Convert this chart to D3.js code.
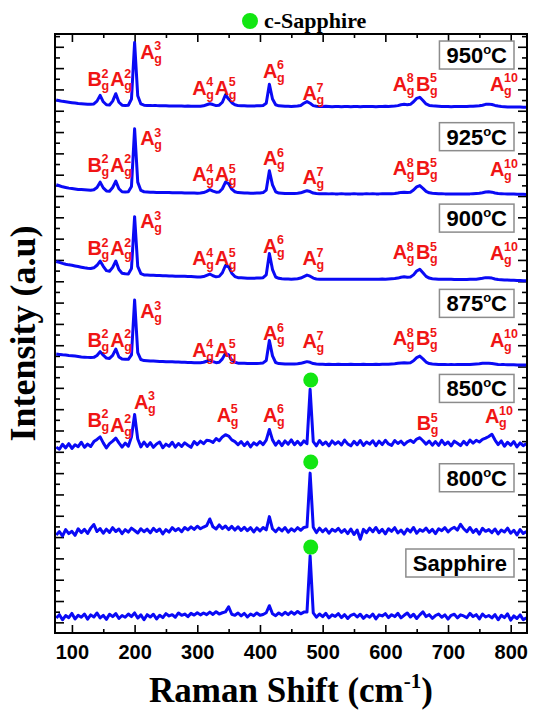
<!DOCTYPE html>
<html>
<head>
<meta charset="utf-8">
<script src="https://cdn.jsdelivr.net/npm/d3@7"></script>
<style>
  body { margin: 0; background: #fff; }
  .tick text { font-family: "Liberation Sans", Arial, sans-serif; font-weight: bold; font-size: 20px; fill: #000; }
  .tick line { stroke: #000; stroke-width: 1.6; }
  .mode { font-family: "Liberation Sans", Arial, sans-serif; font-weight: bold; fill: #f01414; }
  .tag { font-family: "Liberation Sans", Arial, sans-serif; font-weight: bold; font-size: 22px; fill: #000; }
  .title { font-family: "Liberation Serif", "Times New Roman", serif; font-weight: bold; fill: #000; }
</style>
</head>
<body>
<script>
const width = 533;
const height = 713;

// Raman shift grid (cm-1)
const shifts = [
  75, 80, 85, 90, 95, 100, 105, 110, 115, 120,
  125, 130, 135, 140, 145, 150, 155, 160, 165, 170,
  175, 180, 185, 190, 195, 200, 205, 210, 215, 220,
  225, 230, 235, 240, 245, 250, 255, 260, 265, 270,
  275, 280, 285, 290, 295, 300, 305, 310, 315, 320,
  325, 330, 335, 340, 345, 350, 355, 360, 365, 370,
  375, 380, 385, 390, 395, 400, 405, 410, 415, 420,
  425, 430, 435, 440, 445, 450, 455, 460, 465, 470,
  475, 480, 485, 490, 495, 500, 505, 510, 515, 520,
  525, 530, 535, 540, 545, 550, 555, 560, 565, 570,
  575, 580, 585, 590, 595, 600, 605, 610, 615, 620,
  625, 630, 635, 640, 645, 650, 655, 660, 665, 670,
  675, 680, 685, 690, 695, 700, 705, 710, 715, 720,
  725, 730, 735, 740, 745, 750, 755, 760, 765, 770,
  775, 780, 785, 790, 795, 800, 805, 810, 815, 820, 825
];

const samples = ['950', '925', '900', '875', '850', '800', 'Sapphire'];
// vertical stacking offset of each spectrum (a.u.)
const offsets = [242, 201, 161, 121, 83, 43, 3];

const s950 = [
  3.0, 2.7, 2.4, 2.2, 2.0, 1.8, 1.6, 1.4, 1.3, 1.2,
  1.1, 1.0, 1.2, 2.5, 5.2, 2.2, 0.8, 0.7, 2.5, 6.0,
  2.0, 0.6, 0.5, 0.6, 3.5, 30.0, 5.0, 1.2, 0.6, 0.5,
  0.5, 0.4, 0.4, 0.3, 0.3, 0.3, 0.2, 0.2, 0.2, 0.2,
  0.2, 0.1, 0.2, 0.1, 0.1, 0.1, 0.1, 0.3, 0.8, 1.3,
  0.9, 0.4, 0.6, 2.0, 5.5, 3.5, 1.8, 0.8, 0.4, 0.3,
  0.3, 0.2, 0.2, 0.2, 0.3, 0.3, 0.5, 1.5, 10.4, 3.5,
  0.8, 0.3, 0.2, 0.1, 0.1, 0.0, 0.1, 0.2, 0.5, 1.5,
  2.3, 1.5, 0.4, 0.1, 0.0, 0.0, 0.1, 0.0, -0.1, 0.0,
  0.0, -0.1, 0.0, 0.0, -0.1, 0.0, 0.0, -0.1, 0.0, 0.0,
  0.0, 0.0, -0.1, 0.0, 0.0, 0.1, 0.0, 0.1, 0.2, 0.4,
  0.8, 1.0, 0.8, 1.0, 2.2, 3.8, 4.3, 2.8, 1.2, 0.5,
  0.3, 0.2, 0.1, 0.0, 0.0, 0.0, -0.1, 0.0, 0.0, 0.0,
  0.0, 0.0, 0.1, 0.1, 0.2, 0.3, 0.6, 1.0, 1.1, 0.9,
  0.5, 0.2, 0.0, -0.1, -0.2, -0.2, -0.3, -0.3, -0.3, -0.4, -0.4
];

const s925 = [
  4.3, 3.8, 3.3, 3.0, 2.7, 2.5, 2.3, 2.1, 2.0, 1.9,
  1.8, 1.7, 1.9, 3.0, 5.5, 2.8, 1.4, 1.2, 3.0, 6.0,
  2.4, 1.0, 0.9, 1.0, 3.5, 30.5, 5.5, 1.6, 1.0, 0.9,
  0.8, 0.8, 0.7, 0.7, 0.6, 0.6, 0.6, 0.5, 0.5, 0.5,
  0.5, 0.4, 0.4, 0.4, 0.4, 0.3, 0.4, 0.6, 1.2, 2.0,
  1.3, 0.8, 0.9, 2.4, 5.5, 4.8, 2.2, 1.0, 0.6, 0.5,
  0.4, 0.4, 0.3, 0.3, 0.4, 0.4, 0.6, 1.8, 10.8, 4.2,
  1.0, 0.4, 0.3, 0.2, 0.2, 0.2, 0.2, 0.3, 0.5, 1.0,
  1.5, 1.1, 0.4, 0.2, 0.1, 0.1, 0.1, 0.0, 0.1, 0.0,
  0.0, 0.1, 0.0, 0.0, 0.0, 0.1, 0.0, 0.0, 0.0, 0.1,
  0.0, 0.1, 0.0, 0.0, 0.1, 0.1, 0.1, 0.1, 0.2, 0.4,
  0.7, 0.8, 0.7, 0.8, 1.8, 3.3, 3.9, 2.6, 1.2, 0.5,
  0.3, 0.2, 0.1, 0.1, 0.0, 0.0, 0.0, 0.0, 0.0, 0.0,
  0.0, 0.0, 0.0, 0.1, 0.2, 0.3, 0.5, 0.9, 1.0, 0.8,
  0.4, 0.2, 0.1, 0.0, -0.1, -0.1, -0.1, -0.2, -0.2, -0.2, -0.3
];

const s900 = [
  8.3, 7.9, 7.4, 7.0, 6.7, 6.5, 6.2, 5.9, 5.6, 5.3,
  5.1, 5.0, 5.3, 6.5, 8.5, 6.0, 4.0, 3.7, 5.5, 8.5,
  4.5, 2.8, 2.5, 2.4, 5.0, 29.3, 6.0, 2.6, 2.0, 1.9,
  1.8, 1.8, 1.7, 1.7, 1.6, 1.6, 1.5, 1.5, 1.4, 1.4,
  1.3, 1.3, 1.2, 1.2, 1.1, 1.0, 1.0, 1.2, 1.8, 2.4,
  1.6, 1.1, 1.3, 3.0, 6.4, 5.8, 2.8, 1.2, 0.7, 0.6,
  0.5, 0.4, 0.4, 0.4, 0.5, 0.5, 0.7, 2.0, 12.0, 4.5,
  1.0, 0.4, 0.2, 0.1, 0.1, 0.0, 0.1, 0.2, 0.5, 1.2,
  1.9, 1.4, 0.5, 0.1, 0.0, 0.0, -0.1, 0.0, -0.1, 0.0,
  -0.1, 0.0, 0.0, -0.1, 0.0, 0.0, -0.1, 0.0, 0.0, 0.0,
  -0.1, 0.0, 0.0, 0.0, 0.1, 0.0, 0.1, 0.2, 0.3, 0.5,
  0.9, 1.1, 0.9, 1.0, 2.0, 3.8, 4.6, 3.0, 1.3, 0.5,
  0.2, 0.1, 0.0, 0.0, -0.1, -0.1, -0.1, -0.2, -0.2, -0.2,
  -0.2, -0.2, -0.1, -0.1, 0.0, 0.2, 0.4, 0.7, 0.7, 0.5,
  0.1, -0.2, -0.3, -0.4, -0.4, -0.5, -0.5, -0.6, -0.6, -0.7, -0.7
];

const s875 = [
  4.9, 4.7, 4.5, 4.4, 4.2, 4.1, 3.9, 3.7, 3.5, 3.4,
  3.3, 3.2, 3.3, 4.2, 6.0, 4.3, 3.0, 2.8, 4.2, 7.2,
  3.5, 2.5, 2.4, 2.4, 4.5, 30.2, 5.5, 2.3, 1.8, 1.7,
  1.6, 1.6, 1.5, 1.4, 1.4, 1.3, 1.2, 1.2, 1.1, 1.1,
  1.0, 1.0, 0.9, 0.9, 0.8, 0.8, 0.8, 1.0, 1.5, 2.0,
  1.3, 0.8, 1.0, 2.6, 5.2, 4.5, 2.0, 1.0, 0.6, 0.5,
  0.5, 0.4, 0.4, 0.4, 0.4, 0.5, 0.7, 1.8, 11.2, 4.0,
  0.9, 0.4, 0.3, 0.2, 0.2, 0.2, 0.2, 0.3, 0.5, 0.9,
  1.3, 1.0, 0.4, 0.2, 0.1, 0.1, 0.0, 0.1, 0.0, 0.0,
  0.1, 0.0, 0.0, 0.0, 0.1, 0.0, 0.0, 0.0, 0.1, 0.0,
  0.0, 0.0, 0.1, 0.0, 0.1, 0.1, 0.1, 0.2, 0.3, 0.5,
  0.7, 0.8, 0.7, 0.8, 1.7, 3.2, 3.9, 2.6, 1.1, 0.4,
  0.2, 0.1, 0.0, 0.0, 0.0, -0.1, 0.0, -0.1, 0.0, 0.0,
  0.0, 0.0, 0.0, 0.1, 0.2, 0.3, 0.5, 0.6, 0.5, 0.4,
  0.2, 0.0, -0.1, -0.1, -0.2, -0.2, -0.2, -0.3, -0.3, -0.3, -0.3
];

const s850 = [
  -0.8, -1.8, 0.5, -1.2, 0.8, -1.4, 0.3, -0.6, 1.5, -0.9,
  0.6, -0.5, 1.8, 2.8, 4.0, 1.2, -1.2, 0.8, 2.0, 3.4,
  1.2, -0.8, 1.1, -0.4, 4.0, 14.5, 3.0, -0.7, 1.6, -0.5,
  1.3, -0.9, 0.7, 1.6, -1.1, 0.6, -0.4, 1.5, -0.8, 0.9,
  -0.5, 1.2, 0.1, -0.9, 1.8, 0.4, 2.0, 0.8, 2.4, 2.2,
  1.4, 3.2, 2.2, 4.0, 5.0, 4.4, 2.6, 1.8, 0.3, 1.8,
  -0.1, 1.5, -0.7, 1.2, 0.2, 1.8, 0.4, 2.5, 7.5, 2.6,
  0.1, 2.0, -0.1, 2.1, 0.6, 2.6, 0.3, 1.9, 0.2, 2.1,
  0.8, 26.3, 1.8, -0.2, 2.3, 0.4, 1.6, -0.2, 2.1, 0.6,
  1.7, 0.2, 2.5, 0.7, -0.2, 1.9, 0.3, 2.3, 0.0, 1.6,
  0.6, 2.2, -0.1, 2.0, 0.4, 2.4, 0.7, 0.0, 2.3, 0.9,
  2.0, 0.3, 1.7, 2.4, 1.4, 3.0, 3.6, 2.2, 0.6, 2.0,
  0.1, 1.8, 0.0, 2.4, 0.4, 1.6, -0.2, 2.0, 1.0, -0.1,
  1.9, 0.3, 2.5, 1.1, 2.4, 1.6, 2.8, 3.4, 4.2, 5.2,
  2.5, 0.4, 2.1, -0.4, 1.5, 0.1, 1.8, -0.7, 1.2, -0.1, 0.8
];

const s800 = [
  -2.0, -0.4, -2.5, 0.5, -1.4, -0.3, -2.2, 0.9, -0.9, 0.6,
  -1.3, 1.2, 2.9, -0.4, 1.0, -1.2, 0.7, -0.8, 1.4, -0.4,
  0.8, -1.4, 0.5, -0.7, 1.2, 0.1, -1.1, 0.9, -0.5, 0.7,
  -1.0, 1.1, -0.4, 0.8, -1.5, 0.5, -0.7, 1.4, 0.0, 1.0,
  -0.5, 1.5, 0.4, 1.8, 0.6, 2.1, 0.9, 1.7, 2.4, 5.5,
  1.8, 0.8, 2.7, 1.0, 2.2, 0.5, 2.0, 0.3, 1.8, 0.1,
  1.6, 0.0, 1.4, -0.6, 1.3, -0.1, 1.5, 0.4, 6.6, 0.9,
  -0.5, 1.2, -0.1, 1.5, -0.7, 0.9, -0.2, 1.4, 0.2, 1.5,
  1.8, 27.0, 1.6, -0.9, 1.2, -0.5, 0.9, -1.2, 0.6, -0.3,
  1.1, -0.8, 0.5, -1.4, 0.8, -1.8, 0.3, -4.0, 0.6, -0.9,
  1.2, -0.5, 1.5, -0.9, 0.6, -1.5, 0.9, -0.3, 1.4, -1.1,
  0.3, -1.6, 0.8, -0.6, 1.5, -1.2, 0.5, -0.3, 1.2, -0.8,
  0.6, -1.4, 0.9, 0.0, 1.4, -0.6, 0.8, 1.6, 0.3, 3.0,
  0.9, -0.5, 1.5, -0.8, 0.6, -1.6, 1.1, -0.3, 0.5, -0.9,
  0.8, -1.5, 0.3, -0.6, 1.2, -1.2, 0.2, -2.0, 0.5, -1.3, -0.4
];

const sSapphire = [
  -1.0, 0.6, -1.8, 0.2, -0.8, 1.2, -1.4, 0.3, -0.6, 0.9,
  -1.5, 0.5, -0.5, 1.4, -0.9, 0.3, -1.6, 0.8, -0.3, 1.1,
  -1.2, 0.2, -0.6, 0.9, -0.3, 1.4, -1.0, 0.5, -1.8, 0.6,
  -0.5, 0.8, -1.4, 0.3, -0.8, 1.1, 0.0, 0.6, -0.6, 1.4,
  0.3, 0.9, -0.3, 1.2, 0.4, 1.5, 0.5, 1.4, 0.6, 1.8,
  0.7, 2.0, 0.9, 1.5, 1.9, 4.3, 0.8, 0.3, 1.4, 0.0,
  1.2, -0.5, 0.9, 0.1, 1.4, 0.3, 0.7, 1.5, 4.8, 1.0,
  0.1, 1.4, 0.4, 1.7, 0.6, 1.9, 0.8, 2.1, 1.0, 1.8,
  1.8, 28.2, 1.4, -0.6, 0.9, -0.3, 1.2, -0.9, 0.5, -0.2,
  1.1, -0.8, 0.6, -1.2, 0.3, 0.9, -0.5, 0.8, -1.1, 0.3,
  -0.6, 0.9, -1.4, 0.5, 0.0, 1.1, -0.8, 0.6, -0.3, 1.2,
  -0.9, 0.3, 1.4, -0.5, 0.8, -1.2, 0.5, 1.9, -0.3, 0.6,
  -1.1, 0.2, 0.9, -0.6, 0.5, -1.5, 0.3, 0.8, -0.9, 0.5,
  0.0, -0.8, 1.2, -0.3, 0.6, -1.4, 0.9, -0.5, 0.2, -0.9,
  0.6, -1.8, 0.3, -0.8, 1.0, -2.0, 0.0, -1.2, 0.5, -1.8, -0.9
];

const spectra = [s950, s925, s900, s875, s850, s800, sSapphire];

// Raman mode labels (Ga2O3)
const modeLetter = ['B', 'A', 'A', 'A', 'A', 'A', 'A', 'A', 'B', 'A'];
const modeOrder = ['2', '2', '3', '4', '5', '6', '7', '8', '5', '10'];
// where each label starts (cm-1) and how high above its spectrum it sits (a.u.)
const labelShiftTop = [125, 161, 209, 292, 328, 405, 468, 612, 649, 767];
const labelShift850 = [125, 161, 199, null, 331, 405, null, null, 650, 759];
const labelLevels = [
  [9.6, 9.6, 22.3, 5.4, 5.4, 13.4, 3.0, 7.3, 7.3, 7.3],
  [10.3, 10.3, 22.8, 5.9, 5.9, 13.4, 4.4, 8.7, 8.7, 8.3],
  [11.3, 11.3, 23.8, 6.6, 6.6, 12.4, 6.6, 9.3, 9.3, 9.0],
  [8.3, 8.3, 21.6, 3.6, 3.6, 11.4, 7.6, 9.1, 9.1, 8.3],
  [8.8, 6.4, 17.1, null, 11.1, 11.1, null, null, 7.2, 10.4],
  null,
  null
];

// c-sapphire peak marker
const sapphirePeak = 481;
const sapphireDotLevels = [null, null, null, null, 30.7, 32.2, 32.3];

// sample tag boxes (top edge, a.u. above spectrum)
const tagLevels = [30.7, 33.4, 35.2, 35.2, 33.3, 31.4, 31.4];

const xMajor = [100, 200, 300, 400, 500, 600, 700, 800];
const xMinor = [150, 250, 350, 450, 550, 650, 750];

const svg = d3
  .select('body')
  .append('svg')
  .attr('width', width)
  .attr('height', height);

const plot = { left: 55, right: 527, top: 34, bottom: 633 };

const x = d3.scaleLinear().domain([73, 826]).range([plot.left, plot.right]);
const y = d3.scaleLinear().domain([-5, 276]).range([plot.bottom, plot.top]);

const yMajor = d3.range(0, 271, 10);
const yMinor = d3.range(5, 276, 10);

// Axes with inward ticks.
function addAxis(axis, transform) {
  const g = svg.append('g').attr('transform', transform).call(axis);
  g.select('.domain').remove();
  return g;
}

addAxis(
  d3.axisBottom(x).tickValues(xMajor).tickSize(-8).tickPadding(12).tickFormat(d3.format('d')),
  `translate(0, ${plot.bottom})`
);
addAxis(d3.axisBottom(x).tickValues(xMinor).tickSize(-4).tickFormat(''), `translate(0, ${plot.bottom})`);
addAxis(d3.axisTop(x).tickValues(xMajor).tickSize(-8).tickFormat(''), `translate(0, ${plot.top})`);
addAxis(d3.axisTop(x).tickValues(xMinor).tickSize(-4).tickFormat(''), `translate(0, ${plot.top})`);
addAxis(d3.axisLeft(y).tickValues(yMajor).tickSize(-9).tickFormat(''), `translate(${plot.left}, 0)`);
addAxis(d3.axisLeft(y).tickValues(yMinor).tickSize(-5).tickFormat(''), `translate(${plot.left}, 0)`);
addAxis(d3.axisRight(y).tickValues(yMajor).tickSize(-9).tickFormat(''), `translate(${plot.right}, 0)`);
addAxis(d3.axisRight(y).tickValues(yMinor).tickSize(-5).tickFormat(''), `translate(${plot.right}, 0)`);

// Spectra.
svg.append('clipPath').attr('id', 'clip')
  .append('rect')
  .attr('x', plot.left).attr('y', plot.top)
  .attr('width', plot.right - plot.left).attr('height', plot.bottom - plot.top);

const traces = svg.append('g').attr('clip-path', 'url(#clip)');
spectra.forEach((values, k) => {
  const line = d3
    .line()
    .x((d, i) => x(shifts[i]))
    .y((d) => y(offsets[k] + d));
  traces
    .append('path')
    .datum(values)
    .attr('d', line)
    .attr('fill', 'none')
    .attr('stroke', '#0a0af5')
    .attr('stroke-width', 3)
    .attr('stroke-linejoin', 'round');
});

// Mode labels: big letter, superscript order, subscript g.
function modeLabel(px, py, letter, order) {
  const g = svg.append('g').attr('transform', `translate(${px}, ${py})`);
  g.append('text').attr('class', 'mode').attr('font-size', 20).text(letter);
  g.append('text').attr('class', 'mode').attr('font-size', 12.5).attr('x', 14).attr('y', -8.5).text(order);
  g.append('text').attr('class', 'mode').attr('font-size', 12.5).attr('x', 14).attr('y', 4).text('g');
}

labelLevels.forEach((levels, k) => {
  if (!levels) return;
  const where = k === 4 ? labelShift850 : labelShiftTop;
  levels.forEach((lv, m) => {
    if (lv === null || where[m] === null) return;
    modeLabel(x(where[m]), y(offsets[k] + lv), modeLetter[m], modeOrder[m]);
  });
});

// c-sapphire markers.
sapphireDotLevels.forEach((lv, k) => {
  if (lv === null) return;
  svg.append('circle')
    .attr('cx', x(sapphirePeak))
    .attr('cy', y(offsets[k] + lv))
    .attr('r', 7.5)
    .attr('fill', '#12e612');
});

// Sample tags.
const tagRight = 514;
samples.forEach((name, k) => {
  const top = y(offsets[k] + tagLevels[k]);
  const g = svg.append('g');
  const rect = g.append('rect');
  const t = g.append('text').attr('class', 'tag').attr('y', top + 22);
  if (name === 'Sapphire') {
    t.text(name);
  } else {
    t.append('tspan').text(name);
    t.append('tspan').attr('font-size', 13).attr('dy', -9).text('o');
    t.append('tspan').attr('dy', 9).text('C');
  }
  const w = t.node().getComputedTextLength();
  t.attr('x', tagRight - 7 - w);
  rect
    .attr('x', tagRight - 14 - w)
    .attr('y', top)
    .attr('width', w + 14)
    .attr('height', 28)
    .attr('fill', '#fff')
    .attr('stroke', '#8c8c8c')
    .attr('stroke-width', 1.5);
});

// Frame.
svg.append('rect')
  .attr('x', plot.left).attr('y', plot.top)
  .attr('width', plot.right - plot.left).attr('height', plot.bottom - plot.top)
  .attr('fill', 'none')
  .attr('stroke', '#000')
  .attr('stroke-width', 2);

// Legend.
svg.append('circle').attr('cx', 250).attr('cy', 21).attr('r', 8).attr('fill', '#12e612');
svg.append('text').attr('class', 'title').attr('x', 264).attr('y', 28).attr('font-size', 22).text('c-Sapphire');

// Axis titles.
const xt = svg.append('text')
  .attr('class', 'title')
  .attr('x', (plot.left + plot.right) / 2)
  .attr('y', 702)
  .attr('text-anchor', 'middle')
  .attr('font-size', 35);
xt.append('tspan').text('Raman Shift (cm');
xt.append('tspan').attr('font-size', 21).attr('dy', -14).text('-1');
xt.append('tspan').attr('dy', 14).text(')');

svg.append('text')
  .attr('class', 'title')
  .attr('transform', `translate(35, ${(plot.top + plot.bottom) / 2}) rotate(-90)`)
  .attr('text-anchor', 'middle')
  .attr('font-size', 36)
  .text('Intensity (a.u)');
</script>
</body>
</html>
